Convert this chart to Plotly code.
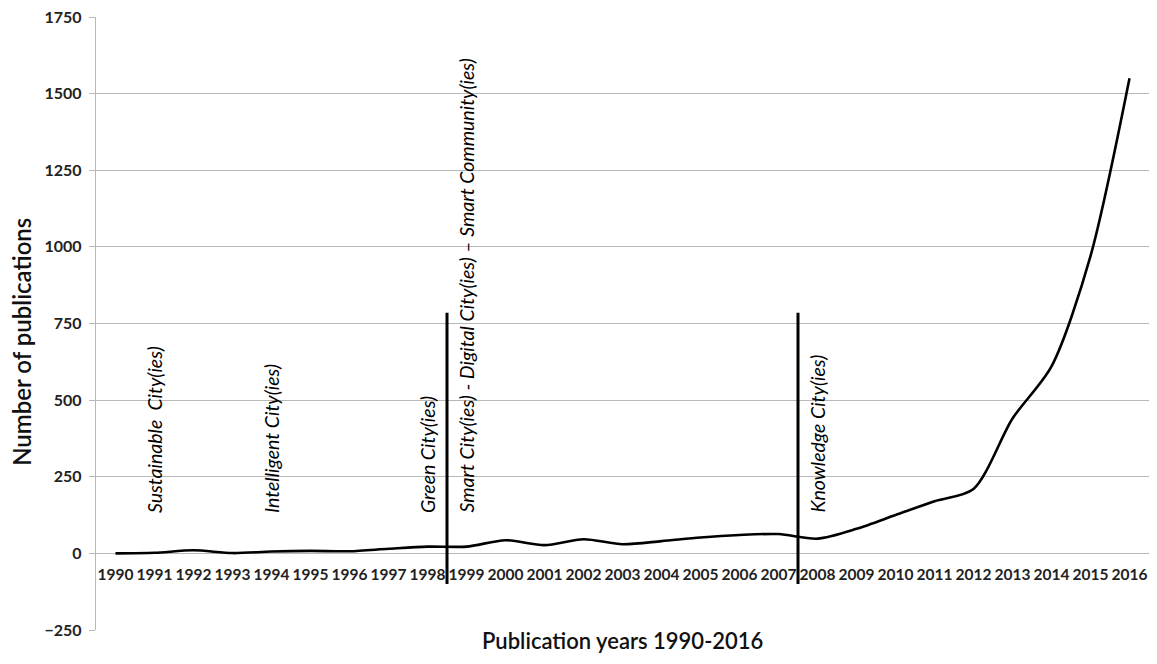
import plotly.graph_objects as go

years = ["1990", "1991", "1992", "1993", "1994", "1995", "1996", "1997", "1998",
         "1999", "2000", "2001", "2002", "2003", "2004", "2005", "2006", "2007",
         "2008", "2009", "2010", "2011", "2012", "2013", "2014", "2015", "2016"]
publications = [0, 2, 10, 1, 6, 8, 7, 15, 22, 22, 43, 27, 46, 30, 40, 52, 60, 63,
                48, 80, 125, 170, 210, 440, 610, 970, 1550]

era_labels = ["Sustainable  City(ies)", "Intelligent City(ies)", "Green City(ies)",
              "Smart City(ies) - Digital City(ies) \u2013 Smart Community(ies)",
              "Knowledge City(ies)"]
era_years = ["1991", "1994", "1998", "1999", "2008"]
label_base = 125

divider_after = ["1998", "2007"]   # vertical separators drawn between this year and the next
divider_low, divider_high = -100, 785

y_ticks = [-250, 0, 250, 500, 750, 1000, 1250, 1500, 1750]

FONT = "Lato"
GRID = "#b8b8b8"

fig = go.Figure()
fig.add_trace(go.Scatter(
    x=years, y=publications, mode="lines",
    line=dict(color="black", width=2.6, shape="spline", smoothing=0.8),
    showlegend=False, hoverinfo="x+y"))

for yr in divider_after:
    pos = years.index(yr) + 0.5
    fig.add_shape(type="line", xref="x", yref="y", x0=pos, x1=pos,
                  y0=divider_low, y1=divider_high,
                  line=dict(color="black", width=3))

for txt, yr in zip(era_labels, era_years):
    fig.add_annotation(x=years.index(yr), y=label_base, xref="x", yref="y", text=txt,
                       textangle=-90, showarrow=False, yanchor="bottom",
                       xanchor="center",
                       font=dict(family=FONT, size=19.5, color="#000",
                                 style="italic"))

fig.add_annotation(x=0.5, y=-0.0165, xref="paper", yref="paper",
                   text="Publication years 1990-2016", showarrow=False,
                   yanchor="middle", xanchor="center",
                   font=dict(family=FONT, size=22, color="#111", weight=600))
fig.add_annotation(x=-0.0703, y=0.47, xref="paper", yref="paper",
                   text="Number of publications", showarrow=False,
                   textangle=-90, xanchor="center", yanchor="middle",
                   font=dict(family=FONT, size=24, color="#111", weight=600))

fig.update_layout(
    width=1141, height=648,
    margin=dict(l=88, r=0, t=9, b=26),
    plot_bgcolor="white", paper_bgcolor="white",
    xaxis=dict(type="category", range=[-0.5, 26.5], showgrid=False,
               zeroline=False, showline=False, ticks="", tickangle=0,
               anchor="free", position=(0 - (-250)) / 2000,
               ticklabelstandoff=10, automargin=False,
               ticklabeloverflow="allow",
               tickfont=dict(family=FONT, size=15.5, color="#222", weight="bold")),
    yaxis=dict(range=[-250, 1750], tickvals=y_ticks, showgrid=True,
               gridcolor=GRID, gridwidth=1.3, zeroline=True, zerolinecolor=GRID,
               zerolinewidth=1.3, showline=True, linecolor=GRID, linewidth=1.3,
               ticks="outside", ticklen=6, tickcolor=GRID, ticklabelstandoff=4,
               ticklabeloverflow="allow", automargin=False,
               tickfont=dict(family=FONT, size=16, color="#222", weight="bold")),
)

fig.write_html("out.html")
